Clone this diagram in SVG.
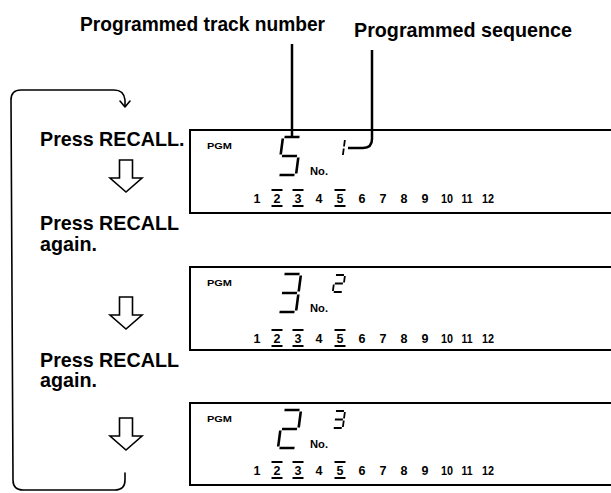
<svg xmlns="http://www.w3.org/2000/svg" width="611" height="493" viewBox="0 0 611 493">
<style>
text{font-family:"Liberation Sans",Arial,Helvetica,sans-serif;font-weight:bold;fill:#000}
.lbl{font-size:19.7px}
.pgm{font-size:9px}
.no{font-size:11.5px}
.num{font-size:12.5px;text-anchor:middle}
.box{fill:none;stroke:#000;stroke-width:2}
.seg{fill:none;stroke:#000;stroke-width:2.6}
.sseg{fill:none;stroke:#000;stroke-width:1.8}
.bar{stroke:#000;stroke-width:1.8}
.ln{fill:none;stroke:#000;stroke-width:2.5}
.brk{fill:none;stroke:#000;stroke-width:1.6;stroke-linecap:round;stroke-linejoin:round}
.blk{fill:#fff;stroke:#000;stroke-width:1.6;stroke-linejoin:miter}
</style>
<defs>
<g id="row">
<text class="num" x="257" y="0">1</text>
<text class="num" x="277" y="0">2</text>
<text class="num" x="298" y="0">3</text>
<text class="num" x="319" y="0">4</text>
<text class="num" x="340" y="0">5</text>
<text class="num" x="362" y="0">6</text>
<text class="num" x="383" y="0">7</text>
<text class="num" x="404" y="0">8</text>
<text class="num" x="425" y="0">9</text>
<text class="num" x="447" y="0" textLength="12" lengthAdjust="spacingAndGlyphs">10</text>
<text class="num" x="467" y="0" textLength="11" lengthAdjust="spacingAndGlyphs">11</text>
<text class="num" x="488" y="0" textLength="12" lengthAdjust="spacingAndGlyphs">12</text>
<path class="bar" d="M271.5,-13 H282.5 M271.5,3 H282.5 M292.5,-13 H303.5 M292.5,3 H303.5 M334.5,-13 H345.5 M334.5,3 H345.5"/>
</g>
<polygon id="blk" class="blk" points="119.5,0 132.5,0 132.5,18 142,18 126,32 110,18 119.5,18"/>
</defs>

<g id="headers">
<text class="lbl" x="80" y="31" textLength="245" lengthAdjust="spacingAndGlyphs">Programmed track number</text>
<text class="lbl" x="354" y="37" textLength="218" lengthAdjust="spacingAndGlyphs">Programmed sequence</text>
</g>

<g id="steps">
<text class="lbl" x="40" y="146">Press RECALL.</text>
<text class="lbl" x="40" y="230">Press RECALL</text>
<text class="lbl" x="40" y="251">again.</text>
<text class="lbl" x="40" y="367">Press RECALL</text>
<text class="lbl" x="40" y="387">again.</text>
</g>

<g id="display1">
<path class="box" d="M611,130 H190 V213 H611"/>
<text class="pgm" x="207" y="149" textLength="25" lengthAdjust="spacingAndGlyphs">PGM</text>
<g transform="translate(283,137) skewX(-7.5)"><path class="seg" d="M1.5,0 H16.5 M0,1.5 V17.5 M1.5,19 H16.5 M18,20.5 V36.5 M1.5,38 H16.5"/></g>
<text class="no" x="310" y="175" textLength="18" lengthAdjust="spacingAndGlyphs">No.</text>
<g transform="translate(335,139) skewX(-7.5)"><path class="sseg" d="M10,1 V7.5 M10,9.5 V16"/></g>
<use href="#row" transform="translate(0,203)"/>
</g>

<g id="display2">
<path class="box" d="M611,267 H190 V350 H611"/>
<text class="pgm" x="207" y="286" textLength="25" lengthAdjust="spacingAndGlyphs">PGM</text>
<g transform="translate(283,274) skewX(-7.5)"><path class="seg" d="M1.5,0 H16.5 M18,1.5 V17.5 M1.5,19 H16.5 M18,20.5 V36.5 M1.5,38 H16.5"/></g>
<text class="no" x="310" y="312" textLength="18" lengthAdjust="spacingAndGlyphs">No.</text>
<g transform="translate(335,275) skewX(-7.5)"><path class="sseg" d="M1,0 H9 M10,1 V7.5 M1,8.5 H9 M0,9.5 V16 M1,17 H9"/></g>
<use href="#row" transform="translate(0,343)"/>
</g>

<g id="display3">
<path class="box" d="M611,403 H190 V485 H611"/>
<text class="pgm" x="207" y="422" textLength="25" lengthAdjust="spacingAndGlyphs">PGM</text>
<g transform="translate(283,410) skewX(-7.5)"><path class="seg" d="M1.5,0 H16.5 M18,1.5 V17.5 M1.5,19 H16.5 M0,20.5 V36.5 M1.5,38 H16.5"/></g>
<text class="no" x="310" y="448" textLength="18" lengthAdjust="spacingAndGlyphs">No.</text>
<g transform="translate(335,411) skewX(-7.5)"><path class="sseg" d="M1,0 H9 M10,1 V7.5 M1,8.5 H9 M10,9.5 V16 M1,17 H9"/></g>
<use href="#row" transform="translate(0,475)"/>
</g>

<g id="connectors">
<path class="ln" d="M292,44 V137"/>
<path class="ln" d="M372,50 V139 Q372,148 363,148 H348"/>
<path class="brk" d="M125,473 V480 Q125,490 115,490 H23 Q13,490 13,480 L11,100 Q11,90 21,90 H114 Q124,90 125,100 V106"/>
<path class="brk" d="M120,101 L125,107 L130,101"/>
<use href="#blk" transform="translate(0,160)"/>
<use href="#blk" transform="translate(0,297)"/>
<use href="#blk" transform="translate(0,418)"/>
</g>
</svg>
